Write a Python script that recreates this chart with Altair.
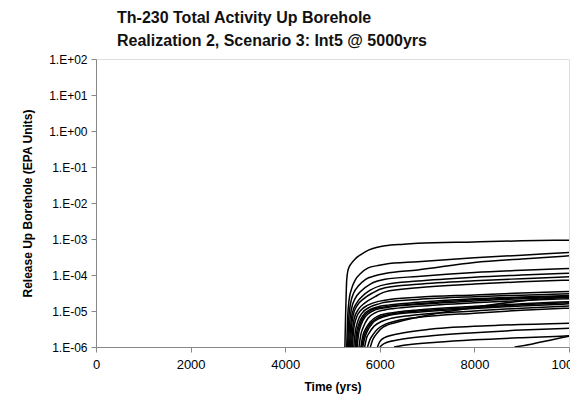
import altair as alt
import pandas as pd

TITLE_LINES = ["Th-230 Total Activity Up Borehole", "Realization 2, Scenario 3: Int5 @ 5000yrs"]
X_TITLE = "Time (yrs)"
Y_TITLE = "Release Up Borehole (EPA Units)"
X_TICKS = [0, 2000, 4000, 6000, 8000, 10000]
Y_TICKS = [1e-6, 1e-5, 1e-4, 1e-3, 1e-2, 1e-1, 1e0, 1e1, 1e2]

C01_T = [5262, 5275, 5290, 5300, 5330, 5400, 5480, 5600, 5760, 5950, 6110, 6500, 6800, 8000, 9000, 10000]
C01_V = [1e-6, 6e-6, 3.2e-5, 7.2e-5, 1.4e-4, 2.1e-4, 2.8e-4, 3.7e-4, 4.9e-4, 5.9e-4, 6.5e-4, 7.2e-4, 7.6e-4, 8.3e-4, 8.9e-4, 9.3e-4]
C02_T = [5300, 5320, 5350, 5400, 5480, 5600, 5755, 5950, 6110, 6800, 8000, 9000, 10000]
C02_V = [1e-6, 6.3e-6, 2e-5, 4e-5, 7.2e-5, 1.12e-4, 1.58e-4, 1.82e-4, 2.0e-4, 2.34e-4, 3.0e-4, 3.55e-4, 4.2e-4]
C03_T = [5320, 5340, 5380, 5450, 5550, 5700, 5900, 6110, 6800, 8000, 9000, 10000]
C03_V = [1e-6, 5e-6, 1.58e-5, 3.2e-5, 5e-5, 7.6e-5, 9.5e-5, 1.1e-4, 1.38e-4, 2.24e-4, 2.8e-4, 3.4e-4]
C04_T = [5340, 5360, 5400, 5480, 5600, 5800, 6110, 6800, 8000, 9000, 10000]
C04_V = [1e-6, 4e-6, 1.12e-5, 2.24e-5, 3.55e-5, 5.6e-5, 7.6e-5, 9.1e-5, 1.17e-4, 1.35e-4, 1.51e-4]
C05_T = [5360, 5380, 5420, 5500, 5620, 5800, 6110, 6800, 8000, 9000, 10000]
C05_V = [1e-6, 3.2e-6, 8.9e-6, 1.58e-5, 2.5e-5, 3.8e-5, 5.4e-5, 6.8e-5, 8.7e-5, 1.0e-4, 1.12e-4]
C06_T = [5380, 5400, 5440, 5520, 5650, 5850, 6110, 6800, 8000, 9000, 10000]
C06_V = [1e-6, 3.2e-6, 7.9e-6, 1.41e-5, 2.14e-5, 3.2e-5, 4.4e-5, 5.5e-5, 6.9e-5, 7.9e-5, 8.9e-5]
C07_T = [5400, 5420, 5460, 5550, 5680, 5900, 6110, 6800, 8000, 9000, 10000]
C07_V = [1e-6, 2.5e-6, 6.3e-6, 1.12e-5, 1.66e-5, 2.5e-5, 3.4e-5, 4.4e-5, 5.6e-5, 6.5e-5, 7.2e-5]
C08_T = [5420, 5450, 5500, 5600, 5750, 5950, 6110, 6800, 8000, 9000, 10000]
C08_V = [1e-6, 3.2e-6, 6.3e-6, 1.05e-5, 1.45e-5, 1.82e-5, 2.0e-5, 2.4e-5, 2.8e-5, 3.16e-5, 3.47e-5]
C09_T = [5450, 5480, 5530, 5630, 5780, 5980, 6110, 6800, 8000, 9000, 10000]
C09_V = [1e-6, 2.5e-6, 5e-6, 8.9e-6, 1.26e-5, 1.58e-5, 1.74e-5, 2.1e-5, 2.5e-5, 2.75e-5, 3.0e-5]
C10_T = [5480, 5510, 5560, 5660, 5810, 6000, 6200, 6800, 8000, 9000, 10000]
C10_V = [1e-6, 2.5e-6, 4.5e-6, 7.9e-6, 1.12e-5, 1.35e-5, 1.48e-5, 1.74e-5, 2.2e-5, 2.45e-5, 2.7e-5]
C11_T = [5520, 5550, 5600, 5700, 5850, 6050, 6250, 6800, 8000, 9000, 10000]
C11_V = [1e-6, 2.24e-6, 4e-6, 7.1e-6, 1e-5, 1.2e-5, 1.32e-5, 1.51e-5, 1.9e-5, 2.2e-5, 2.4e-5]
C12_T = [5560, 5600, 5650, 5750, 5900, 6100, 6300, 6800, 8000, 9000, 10000]
C12_V = [1e-6, 2.24e-6, 3.55e-6, 6.3e-6, 8.9e-6, 1.07e-5, 1.17e-5, 1.35e-5, 1.7e-5, 1.95e-5, 2.2e-5]
C13_T = [5600, 5640, 5700, 5800, 5950, 6150, 6400, 6800, 8000, 9000, 10000]
C13_V = [1e-6, 2e-6, 3.2e-6, 5e-6, 7.1e-6, 8.5e-6, 9.5e-6, 1.07e-5, 1.35e-5, 1.58e-5, 1.82e-5]
C14_T = [5640, 5680, 5740, 5840, 6000, 6200, 6450, 6800, 8000, 9000, 10000]
C14_V = [1e-6, 1.78e-6, 2.8e-6, 4.5e-6, 6.3e-6, 7.6e-6, 8.5e-6, 9.3e-6, 1.17e-5, 1.38e-5, 1.58e-5]
C15_T = [5680, 5720, 5780, 5880, 6050, 6250, 6500, 6800, 8000, 9000, 10000]
C15_V = [1e-6, 1.78e-6, 2.5e-6, 3.8e-6, 5.2e-6, 6.3e-6, 7.1e-6, 7.9e-6, 1.0e-5, 1.2e-5, 1.38e-5]
C16_T = [5740, 5790, 5860, 5960, 6120, 6320, 6550, 6800, 8000, 9000, 10000]
C16_V = [1e-6, 1.58e-6, 2.24e-6, 3.2e-6, 4.3e-6, 5.2e-6, 6e-6, 6.6e-6, 8.7e-6, 1.05e-5, 1.2e-5]
C17_T = [5800, 5850, 5950, 6070, 6400, 7000, 8000, 9000, 10000]
C17_V = [1e-6, 1.58e-6, 2.5e-6, 3.55e-6, 5e-6, 7.6e-6, 1.26e-5, 1.9e-5, 2.5e-5]
C18_T = [5950, 6000, 6100, 6400, 7100, 8500, 10000]
C18_V = [1e-6, 1.41e-6, 1.82e-6, 2.34e-6, 3.16e-6, 4.0e-6, 4.6e-6]
C19_T = [6000, 6100, 6400, 7000, 8000, 9000, 10000]
C19_V = [1e-6, 1.26e-6, 1.58e-6, 2.0e-6, 2.5e-6, 2.95e-6, 3.3e-6]
C20_T = [6300, 6600, 7200, 8000, 9000, 10000]
C20_V = [1e-6, 1.15e-6, 1.35e-6, 1.58e-6, 1.82e-6, 2.04e-6]
C21_T = [8850, 9200, 9600, 10000]
C21_V = [1e-6, 1.2e-6, 1.55e-6, 2.0e-6]
C22_T = [5500, 5530, 5580, 5680, 5830, 6030, 6230, 6800, 8000, 9000, 10000]
C22_V = [1e-6, 2.4e-6, 4.2e-6, 7.6e-6, 1.07e-5, 1.26e-5, 1.38e-5, 1.58e-5, 2.04e-5, 2.34e-5, 2.57e-5]
C23_T = [5620, 5660, 5720, 5820, 5970, 6170, 6420, 6800, 8000, 9000, 10000]
C23_V = [1e-6, 1.9e-6, 3.0e-6, 4.7e-6, 6.6e-6, 7.9e-6, 8.9e-6, 1.0e-5, 1.26e-5, 1.48e-5, 1.7e-5]

CURVES = {
    "c01": (C01_T, C01_V), "c02": (C02_T, C02_V), "c03": (C03_T, C03_V),
    "c04": (C04_T, C04_V), "c05": (C05_T, C05_V), "c06": (C06_T, C06_V),
    "c07": (C07_T, C07_V), "c08": (C08_T, C08_V), "c09": (C09_T, C09_V),
    "c10": (C10_T, C10_V), "c11": (C11_T, C11_V), "c12": (C12_T, C12_V),
    "c13": (C13_T, C13_V), "c14": (C14_T, C14_V), "c15": (C15_T, C15_V),
    "c16": (C16_T, C16_V), "c17": (C17_T, C17_V), "c18": (C18_T, C18_V),
    "c19": (C19_T, C19_V), "c20": (C20_T, C20_V), "c21": (C21_T, C21_V),
    "c22": (C22_T, C22_V), "c23": (C23_T, C23_V),
}

rows = []
for name, (ts, vs) in CURVES.items():
    for i, (t, v) in enumerate(zip(ts, vs)):
        rows.append({"curve": name, "order": i, "t": t, "v": v})
df = pd.DataFrame(rows)

FONT = "Liberation Sans"
exp = "round(log(datum.value)/LN10)"
label_expr = f"'1.E' + ({exp} < 0 ? '-' : '+') + (abs({exp}) < 10 ? '0' : '') + abs({exp})"

lines = alt.Chart(df).mark_line(
    color="black", strokeWidth=1.5, interpolate="monotone", clip=True
).encode(
    x=alt.X("t:Q", scale=alt.Scale(domain=[0, 10000], nice=False, zero=False),
            axis=alt.Axis(values=X_TICKS, format="d", title=X_TITLE, grid=False,
                          labelFontSize=13, labelPadding=6, titlePadding=10,
                          titleFontSize=12, labelFlush=False)),
    y=alt.Y("v:Q", scale=alt.Scale(type="log", domain=[1e-6, 100], nice=False),
            axis=alt.Axis(values=Y_TICKS, labelExpr=label_expr, title=Y_TITLE, grid=False,
                          labelFontSize=12, labelPadding=4, titlePadding=14,
                          titleFontSize=12, labelFlush=False)),
    detail="curve:N",
    order="order:Q",
)

chart = lines.properties(
    width=473,
    height=288,
    title=alt.TitleParams(TITLE_LINES, anchor="start", frame="group", dx=21,
                          font=FONT, fontSize=16, fontWeight="bold", color="#111",
                          lineHeight=23, offset=4),
    autosize=alt.AutoSizeParams(type="none"),
    padding={"left": 88, "top": 51, "right": 1, "bottom": 60},
).configure_view(
    stroke="black", strokeWidth=1.2
).configure_axis(
    labelFont=FONT, titleFont=FONT, labelFontWeight="bold", titleFontWeight="bold",
    labelColor="#111", titleColor="#111", domainColor="black", tickColor="black",
    tickSize=4, domainWidth=1.2, tickWidth=1.2,
).configure(background="white")

chart.save("out.html", embed_options={"renderer": "svg", "actions": False})
